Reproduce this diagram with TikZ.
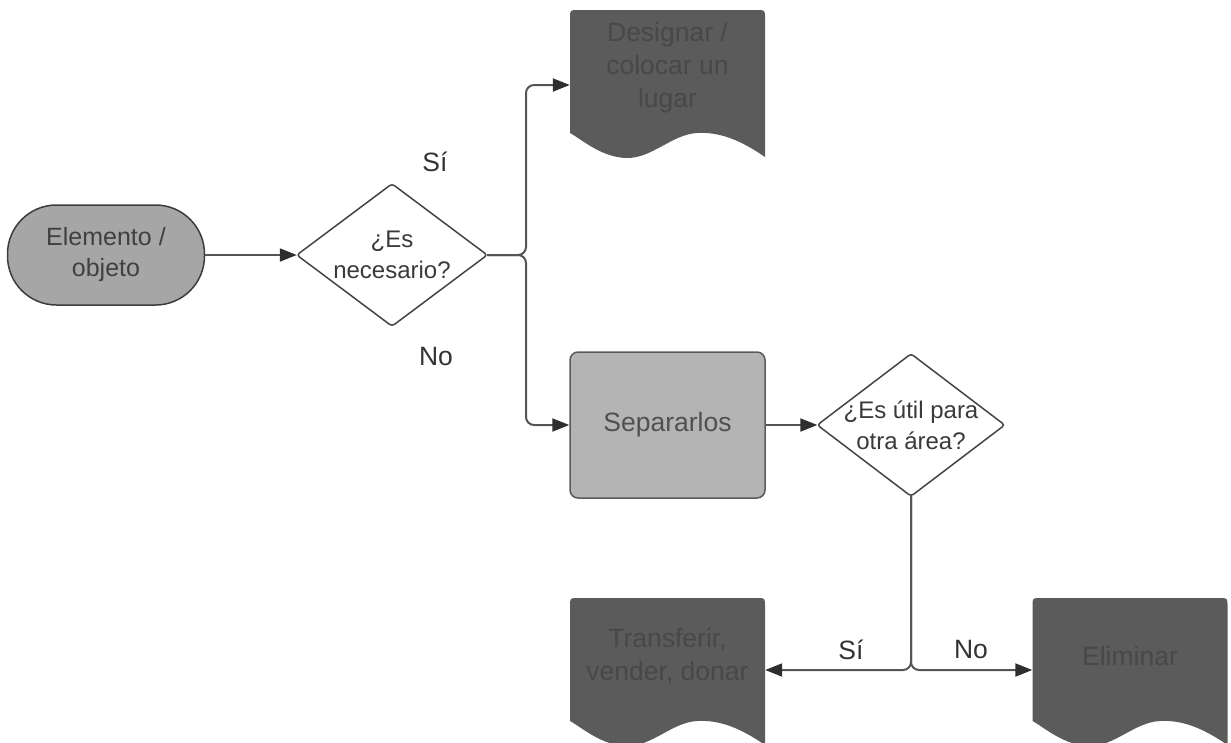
\documentclass[tikz,border=0pt]{standalone}
\usepackage{fontspec}
\setmainfont{Liberation Sans}
\usetikzlibrary{arrows.meta,backgrounds,calc}
\definecolor{linec}{HTML}{555555}
\definecolor{tipc}{HTML}{2E2E2E}
\definecolor{docgray}{HTML}{5B5B5B}
\definecolor{doctext}{HTML}{484848}
\definecolor{sepfill}{HTML}{B4B4B4}
\definecolor{sepedge}{HTML}{5A5A5A}
\definecolor{septext}{HTML}{505050}
\definecolor{termfill}{HTML}{A6A6A6}
\definecolor{termedge}{HTML}{3C3C3C}
\definecolor{termtext}{HTML}{404040}
\definecolor{diaedge}{HTML}{444444}
\definecolor{diatext}{HTML}{3A3A3A}
\definecolor{labeltext}{HTML}{333333}
\newcommand\mydocshape[1]{%
  \path[docfill, shift={(#1.center)}] (-97.5,65) -- (-97.5,-50)
    .. controls (-97.5,-58) .. (-89.5,-58) -- (89.5,-58)
    .. controls (97.5,-58) .. (97.5,-50) -- (97.5,89)
    .. controls (70,70) and (50,64) .. (30,65)
    .. controls (5,66) and (-15,90) .. (-40,90)
    .. controls (-65,90) and (-85,72) .. (-97.5,65) -- cycle;}
\newcommand\mydiamond[1]{%
  \draw[diaedge, fill=white, line width=1.5pt, rounded corners=3pt]
    (#1.north) -- (#1.east) -- (#1.south) -- (#1.west) -- cycle;}
\begin{document}
\begin{tikzpicture}[x=1pt,y=-1pt,
  every node/.style={font=\fontsize{26.5}{33}\selectfont, align=center},
  conn/.style={draw=linec, line width=2pt},
  arr/.style={conn, -{Triangle[length=17pt,width=13pt,color=tipc]}},
  docnode/.style={text=doctext, minimum width=195pt, minimum height=120pt, inner sep=0pt},
  docfill/.style={fill=docgray},
  term/.style={draw=termedge, fill=termfill, line width=1.5pt, rounded corners=49pt,
    minimum width=197pt, minimum height=100pt, text=termtext, inner sep=0pt,
    font=\fontsize{25}{31}\selectfont},
  dia/.style={minimum width=190pt, minimum height=142pt, inner sep=0pt, text=diatext,
    font=\fontsize{24}{31}\selectfont},
  sepbox/.style={draw=sepedge, fill=sepfill, line width=1.5pt, rounded corners=8pt,
    minimum width=195pt, minimum height=146pt, text=septext, inner sep=0pt},
  lbl/.style={text=labeltext}]
\useasboundingbox (0,0) rectangle (1231,742);

\node[term] (el) at (106,255) {Elemento /\\objeto};
\node[dia] (q1) at (392,255) {¿Es\\necesario?};
\node[docnode] (des) at (667.5,68) {Designar /\\colocar un\\lugar};
\node[sepbox] (sep) at (667.5,425) {Separarlos};
\node[dia, minimum width=187pt] (q2) at (911,425) {¿Es útil para\\otra área?};
\node[docnode] (tr) at (667.5,656) {Transferir,\\vender, donar};
\node[docnode] (elim) at (1130,656) {Eliminar};

\begin{scope}[on background layer]
  \mydiamond{q1}
  \mydiamond{q2}
  \mydocshape{des}
  \mydocshape{tr}
  \mydocshape{elim}
\end{scope}

\coordinate (j1) at (526,255);
\coordinate (j2) at (911,670);

\draw[arr] (el.east) -- (q1.west);
\draw[arr, rounded corners=8pt] (q1.east) -- (j1) |- ($(des.west)+(0,17)$);
\draw[arr, rounded corners=8pt] (q1.east) -- (j1) |- (sep.west);
\draw[arr] (sep.east) -- (q2.west);
\draw[arr, rounded corners=8pt] (q2.south) |- (tr.east |- j2);
\draw[arr, rounded corners=8pt] (q2.south) |- (elim.west |- j2);

\node[lbl] (s1) at (435,162) {Sí};
\node[lbl] (n1) at (436,357) {No};
\node[lbl] (s2) at (851,650) {Sí};
\node[lbl] (n2) at (971,650) {No};
\end{tikzpicture}
\end{document}
